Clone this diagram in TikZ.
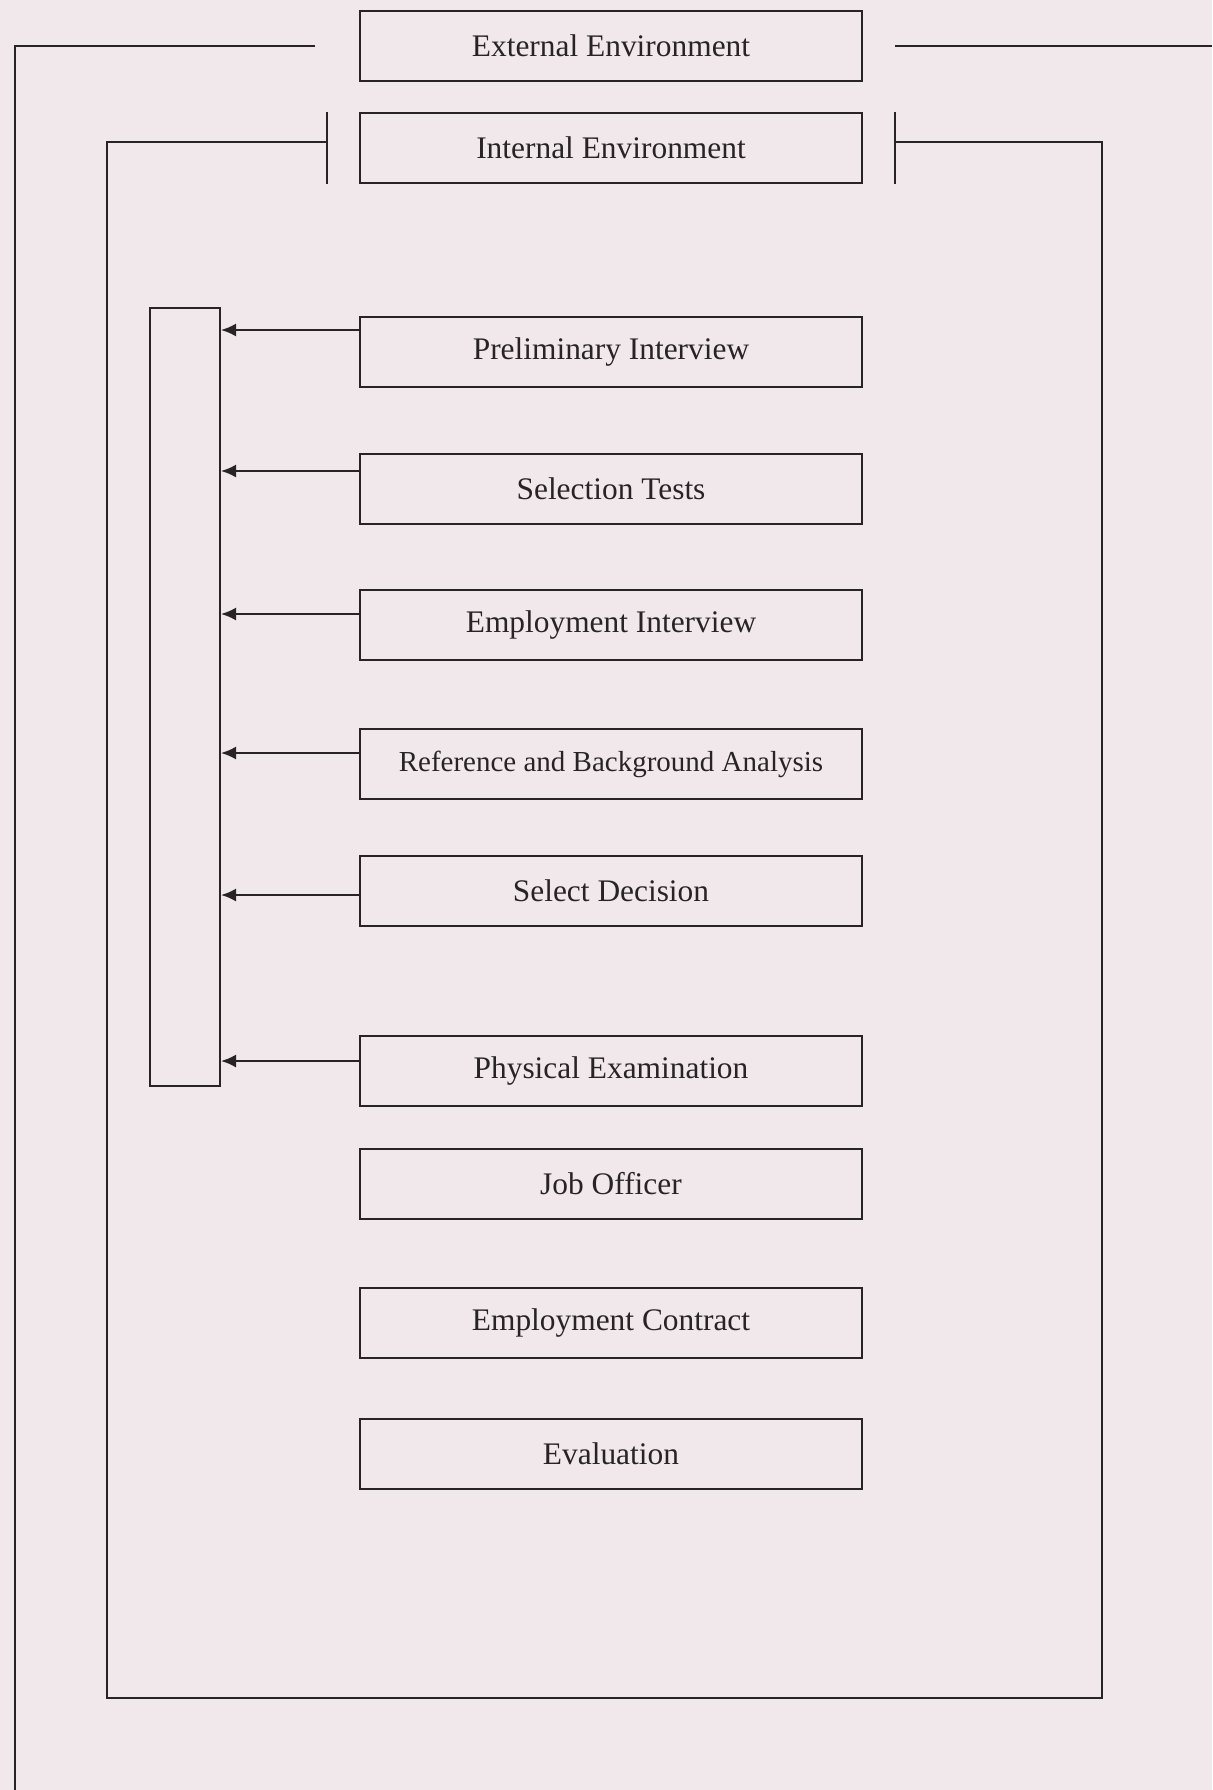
\documentclass[tikz,border=0pt]{standalone}
\usepackage{fontspec}
\setmainfont{Liberation Serif}
\usetikzlibrary{positioning,arrows.meta}
\definecolor{paper}{RGB}{241,232,236}
\definecolor{ink}{RGB}{40,36,38}

\begin{document}
\begin{tikzpicture}[x=0.5pt,y=-0.5pt,on grid,
	box/.style={draw=ink,line width=1pt,minimum width=251pt,minimum height=35pt,inner sep=0pt,text=ink,font=\fontsize{15.7}{18}\selectfont},
	wire/.style={draw=ink,line width=1pt},
	feed/.style={-{Latex[length=7.5pt,width=6.5pt]}}]

\fill[paper] (0,0) rectangle (1212,1790);
\useasboundingbox (0,0) rectangle (1212,1790);

\node[box]		(ext)		at (611,46)					{External Environment};
\node[box]		(int)		[below=51pt of ext]			{Internal Environment};
\node[box]		(prelim)	[below=102pt of int]		{Preliminary Interview};
\node[box]		(tests)		[below=68.5pt of prelim]	{Selection Tests};
\node[box]		(empint)	[below=68pt of tests]		{Employment Interview};
\node[box,font=\fontsize{14.5}{17}\selectfont]
				(refbg)		[below=69.5pt of empint]	{Reference and Background Analysis};
\node[box]		(decide)	[below=63.5pt of refbg]		{Select Decision};
\node[box]		(physical)	[below=90pt of decide]		{Physical Examination};
\node[box]		(joboff)	[below=56.5pt of physical]	{Job Officer};
\node[box]		(contract)	[below=69.5pt of joboff]	{Employment Contract};
\node[box]		(evaluate)	[below=65.5pt of contract]	{Evaluation};

% collecting bar on the left
\node[wire,minimum width=35pt,minimum height=389pt,inner sep=0pt]	(collect)	at (185,697)	{};

\coordinate (in1) at ([yshift=11pt]prelim.west);
\coordinate (in2) at ([yshift=9pt]tests.west);
\coordinate (in3) at ([yshift=5.5pt]empint.west);
\coordinate (in4) at ([yshift=5.5pt]refbg.west);
\coordinate (in5) at ([yshift=-2pt]decide.west);
\coordinate (in6) at ([yshift=5pt]physical.west);

\path[feed]
(in1)	edge[wire]	(in1 -| collect.east)
(in2)	edge[wire]	(in2 -| collect.east)
(in3)	edge[wire]	(in3 -| collect.east)
(in4)	edge[wire]	(in4 -| collect.east)
(in5)	edge[wire]	(in5 -| collect.east)
(in6)	edge[wire]	(in6 -| collect.east)
;

% outer loop (runs off the page)
\coordinate (outerend)	at (15,1790);
\coordinate (outerexit)	at (1212,46);
\draw[wire] ([xshift=-22pt]ext.west) -| (outerend);
\draw[wire] ([xshift=16pt]ext.east) -- (outerexit);

% inner loop
\coordinate (loopsw) at (107,1698);
\coordinate (loopse) at (1102,1698);
\draw[wire] ([xshift=-16pt]int.north west) -- ([xshift=-16pt]int.south west);
\draw[wire] ([xshift=16pt]int.north east) -- ([xshift=16pt]int.south east);
\draw[wire] ([xshift=-16pt,yshift=3pt]int.west) -| (loopsw) -- (loopse) |- ([xshift=16pt,yshift=3pt]int.east);
\end{tikzpicture}
\end{document}
